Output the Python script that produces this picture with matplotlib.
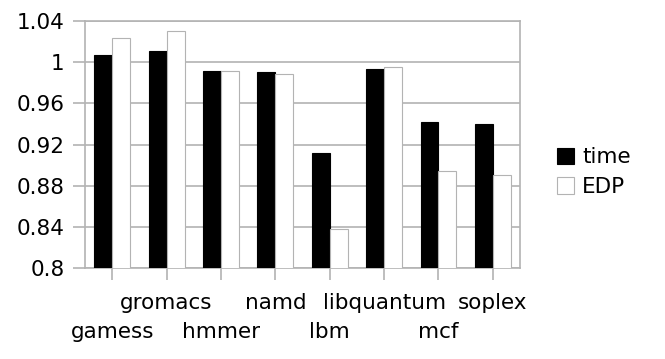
import numpy as np
import matplotlib
matplotlib.use('Agg')
import matplotlib.pyplot as plt

benchmarks = ['gamess', 'gromacs', 'hmmer', 'namd', 'lbm', 'libquantum', 'mcf', 'soplex']
time_vals = [1.0067, 1.0106, 0.9912, 0.9902, 0.9118, 0.9932, 0.9415, 0.9395]
edp_vals = [1.0229, 1.0297, 0.9912, 0.9883, 0.8381, 0.9951, 0.8943, 0.8904]
yticks = [0.8, 0.84, 0.88, 0.92, 0.96, 1.0, 1.04]
ytick_labels = ['0.8', '0.84', '0.88', '0.92', '0.96', '1', '1.04']

grey = '#b3b3b3'
fs = 15.5

fig = plt.figure(figsize=(6.65, 3.59), dpi=100)
ax = fig.add_axes([0.1278, 0.2526, 0.6542, 0.6897])

x = np.arange(len(benchmarks))
w = 0.33
ax.bar(x - w / 2, time_vals, w, color='black', edgecolor='black', linewidth=0.8,
       label='time', zorder=3)
ax.bar(x + w / 2, edp_vals, w, color='white', edgecolor=grey, linewidth=0.8,
       label='EDP', zorder=3)

ax.set_ylim(0.8, 1.04)
ax.set_xlim(-0.5, len(benchmarks) - 0.5)
ax.set_yticks(yticks)
ax.set_yticklabels(ytick_labels, fontsize=fs)
ax.set_xticks(x)
ax.set_xticklabels([''] * len(benchmarks))
ax.yaxis.grid(True, color=grey, linewidth=1.2, zorder=0)
ax.tick_params(axis='y', length=8.6, width=1.2, color=grey, pad=6)
ax.tick_params(axis='x', length=8.6, width=1.2, color=grey)
for s in ax.spines.values():
    s.set_color(grey)
    s.set_linewidth(1.2)

# staggered category labels
trans = ax.get_xaxis_transform()
for i, name in enumerate(benchmarks):
    yy = -0.14 if i % 2 == 1 else -0.257
    ax.text(i, yy, name, transform=trans, ha='center', va='center', fontsize=fs)

fig.legend(loc='center left', bbox_to_anchor=(0.825, 0.52), frameon=False,
           fontsize=fs, handlelength=0.8, handleheight=0.8,
           handletextpad=0.35, labelspacing=0.45, borderaxespad=0)

fig.savefig('out.png', dpi=100)
